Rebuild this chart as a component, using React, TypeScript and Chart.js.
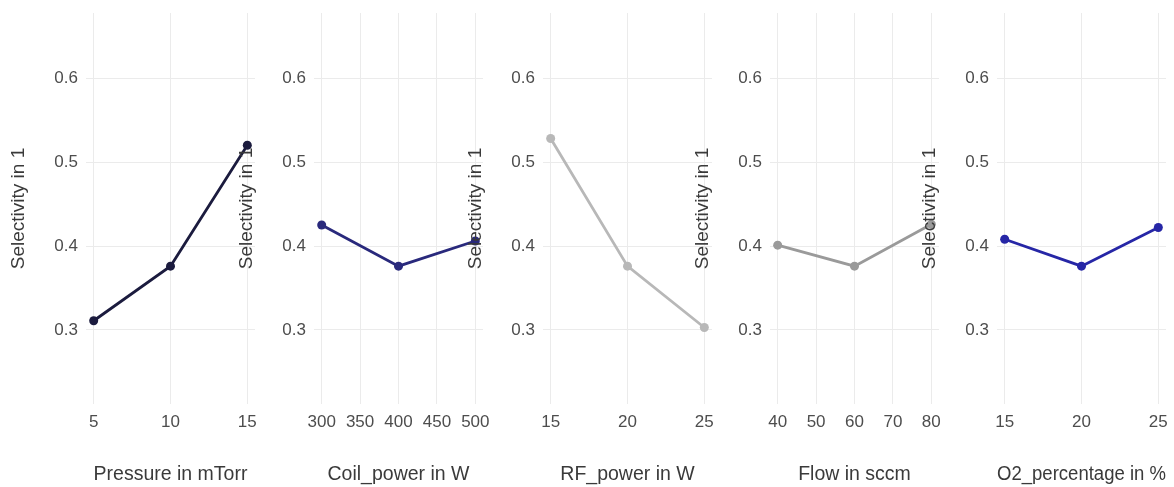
import React, { useEffect, useRef } from "react";
import { Chart, registerables } from "chart.js";

Chart.register(...registerables);

// ---- data ----
const yTitle = "Selectivity in 1";
const yTickValues = [0.3, 0.4, 0.5, 0.6];

const pressureX = [5, 10, 15];
const pressureY = [0.311, 0.376, 0.52];
const pressureTicks = [5, 10, 15];

const coilX = [300, 400, 500];
const coilY = [0.425, 0.376, 0.406];
const coilTicks = [300, 350, 400, 450, 500];

const rfX = [15, 20, 25];
const rfY = [0.528, 0.376, 0.303];
const rfTicks = [15, 20, 25];

const flowX = [40, 60, 80];
const flowY = [0.401, 0.376, 0.426];
const flowTicks = [40, 50, 60, 70, 80];

const o2X = [15, 20, 25];
const o2Y = [0.408, 0.376, 0.422];
const o2Ticks = [15, 20, 25];

const xTitles = [
  "Pressure in mTorr",
  "Coil_power in W",
  "RF_power in W",
  "Flow in sccm",
  "O2_percentage in %",
];

// ---- styles / layout ----
const Y_MIN = 0.2119;
const Y_MAX = 0.6774;
const FONT = "'Liberation Sans', Arial, Helvetica, sans-serif";
const CANVAS_W = 257;
const CANVAS_H = 487;
const panelLefts = [8, 236, 465, 692, 919];
const panelColors = ["#1b1b3e", "#29297c", "#b8b8b8", "#9a9a9a", "#2626a6"];

const panels = [
  { xs: pressureX, ys: pressureY, ticks: pressureTicks },
  { xs: coilX, ys: coilY, ticks: coilTicks },
  { xs: rfX, ys: rfY, ticks: rfTicks },
  { xs: flowX, ys: flowY, ticks: flowTicks },
  { xs: o2X, ys: o2Y, ticks: o2Ticks },
].map((p, i) => ({ ...p, title: xTitles[i], color: panelColors[i], left: panelLefts[i] }));

type PanelProps = {
  xs: number[];
  ys: number[];
  ticks: number[];
  title: string;
  color: string;
  left: number;
};

function Panel({ xs, ys, ticks, title, color, left }: PanelProps) {
  const ref = useRef<HTMLCanvasElement>(null);
  useEffect(() => {
    if (!ref.current) return;
    const lo = ticks[0];
    const hi = ticks[ticks.length - 1];
    const pad = (hi - lo) * 0.05;
    const chart = new Chart(ref.current, {
      type: "line",
      data: {
        datasets: [
          {
            data: xs.map((x, i) => ({ x, y: ys[i] })),
            borderColor: color,
            backgroundColor: color,
            pointBackgroundColor: color,
            pointBorderColor: color,
            borderWidth: 2.8,
            pointRadius: 4.5,
            pointBorderWidth: 0,
            tension: 0,
          },
        ],
      },
      options: {
        animation: false,
        responsive: false,
        maintainAspectRatio: false,
        layout: { padding: { top: 13, right: 10, bottom: 0, left: 0 } },
        plugins: { legend: { display: false }, tooltip: { enabled: false } },
        scales: {
          x: {
            type: "linear",
            min: lo - pad,
            max: hi + pad,
            afterBuildTicks: (s: any) => {
              s.ticks = ticks.map((v) => ({ value: v }));
            },
            afterFit: (s: any) => {
              s.height = 83;
              s.paddingLeft = 0;
              s.paddingRight = 0;
            },
            grid: { color: "#ebebeb", drawTicks: false, lineWidth: 1 },
            border: { display: false },
            ticks: {
              padding: 8,
              color: "#4d4d4d",
              font: { family: FONT, size: 17 },
              maxRotation: 0,
              autoSkip: false,
              callback: (v: any) => String(v),
            },
            title: {
              display: true,
              text: title,
              color: "#3a3a3a",
              font: { family: FONT, size: 19.5 },
              padding: { top: 0, bottom: 1 },
            },
          },
          y: {
            type: "linear",
            min: Y_MIN,
            max: Y_MAX,
            afterBuildTicks: (s: any) => {
              s.ticks = yTickValues.map((v) => ({ value: v }));
            },
            afterFit: (s: any) => {
              s.width = 78;
              s.paddingTop = 0;
              s.paddingBottom = 0;
            },
            grid: { color: "#ebebeb", drawTicks: false, lineWidth: 1 },
            border: { display: false },
            ticks: {
              padding: 8,
              color: "#4d4d4d",
              font: { family: FONT, size: 17 },
              callback: (v: any) => Number(v).toFixed(1),
            },
            title: {
              display: true,
              text: yTitle,
              color: "#3a3a3a",
              font: { family: FONT, size: 19, lineHeight: 1 },
              padding: { top: 1.75, bottom: 0 },
            },
          },
        },
      },
    } as any);
    return () => chart.destroy();
  }, [xs, ys, ticks, title, color]);
  return (
    <canvas
      ref={ref}
      width={CANVAS_W}
      height={CANVAS_H}
      style={{ position: "absolute", left, top: 0, width: CANVAS_W, height: CANVAS_H }}
    />
  );
}

export default function App() {
  return (
    <div
      style={{
        position: "absolute",
        left: 0,
        top: 0,
        width: 1174,
        height: 487,
        overflow: "hidden",
        background: "#ffffff",
      }}
    >
      {panels.map((p, i) => (
        <Panel key={i} {...p} />
      ))}
    </div>
  );
}
